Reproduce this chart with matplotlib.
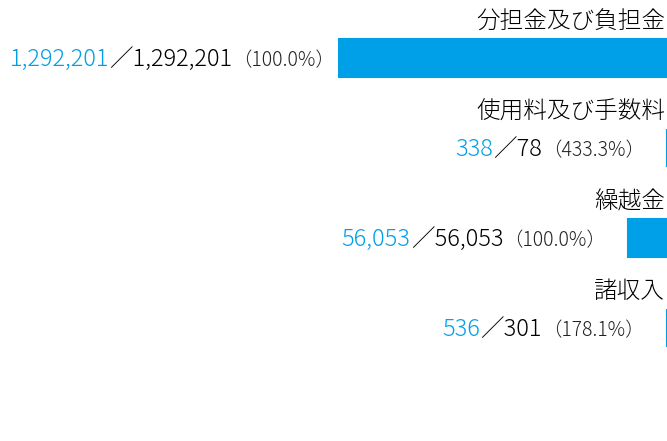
import matplotlib
matplotlib.use('Agg')
import matplotlib.pyplot as plt

plt.rcParams['font.family'] = ['Noto Sans CJK JP', 'DejaVu Sans']
plt.rcParams['font.weight'] = 'light'

categories = ['分担金及び負担金', '使用料及び手数料', '繰越金', '諸収入']
actual = [1292201, 338, 56053, 536]
budget = [1292201, 78, 56053, 301]
ratio = [100.0, 433.3, 100.0, 178.1]

BLUE = '#00a0e9'
DARK = '#000000'
GRAY = '#222222'

W, H, DPI = 667, 441, 100
fig = plt.figure(figsize=(W / DPI, H / DPI), dpi=DPI)

ax_left, ax_right = 338, 667
ax = fig.add_axes([ax_left / W, 0, (ax_right - ax_left) / W, 1])
ax.set_axis_off()

# scale taken from the 繰越金 bar (56,053 -> ~39 px); the first bar runs off the left
px_per_unit = 39 / 56053
xmax = (ax_right - ax_left) / px_per_unit
ax.set_xlim(xmax, 0)

row_px, first_px = 90, 58
ax.set_ylim((H - first_px) / row_px, -first_px / row_px)

rows = range(len(categories))
ax.barh(list(rows), actual, height=38 / row_px, color=BLUE,
        edgecolor=BLUE, linewidth=1.5)

for i in rows:
    # category name above the bar, flush right
    ax.annotate(categories[i], xy=(1, i - 36 / row_px), xycoords=('axes fraction', 'data'),
                xytext=(-2, 0), textcoords='offset pixels',
                ha='right', va='center', fontsize=17, color=DARK)

    left = min(actual[i], xmax)
    gap = 32 if actual[i] < xmax else 13
    base = i + 8 / row_px
    pct = ax.annotate('（{:.1f}%）'.format(ratio[i]), xy=(left, base),
                      xytext=(-gap + 10, 0), textcoords='offset pixels',
                      ha='right', va='baseline', fontsize=14, color=GRAY,
                      annotation_clip=False)
    bud = ax.annotate('／{:,}'.format(budget[i]), xy=(0, base),
                      xycoords=(pct, 'data'), ha='right', va='baseline',
                      fontsize=17, color=DARK, annotation_clip=False)
    ax.annotate('{:,}'.format(actual[i]), xy=(0, base),
                xycoords=(bud, 'data'), ha='right', va='baseline',
                fontsize=17, color=BLUE, annotation_clip=False)

fig.savefig('out.png', dpi=DPI)
plt.close(fig)
